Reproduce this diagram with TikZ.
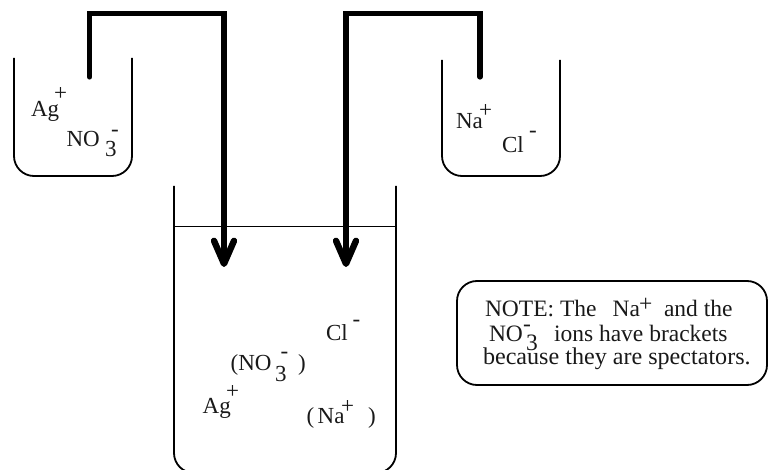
\documentclass[tikz,border=0pt]{standalone}
\usepackage{fontspec}
\setmainfont{Liberation Serif}
\usetikzlibrary{arrows.meta}
\tikzset{
  lbl/.style={anchor=base west,inner sep=0pt,outer sep=0pt,font=\fontsize{23}{26}\selectfont,text=black!90},
  nt/.style={lbl,font=\fontsize{23.5}{26}\selectfont},
  ntwide/.style={lbl,font=\fontsize{24.1}{26}\selectfont},
  beaker/.style={line width=1.8pt,rounded corners=20pt,draw=black},
  pipe/.style={line width=5.2pt,draw=black,line join=miter,line cap=round},
  pipearrow/.style={pipe,-{Straight Barb[round,length=23pt,width=20pt,line width=6.4pt]}}
}
\begin{document}
\begin{tikzpicture}[x=1pt,y=-1pt]
\useasboundingbox (0,0) rectangle (768,470);
\clip (0,0) rectangle (768,470);
% beakers
\draw[beaker] (14,58) -- (14,176) -- (132,176) -- (132,58);
\draw[beaker] (442,60) -- (442,176) -- (560,176) -- (560,60);
\draw[beaker] (174,186) -- (174,473) -- (396,473) -- (396,186);
\draw[line width=1.5pt] (174,226.5) -- (396,226.5);
% note box
\draw[beaker] (457,333) -- (457,281) -- (767,281) -- (767,385) -- (457,385) -- cycle;
% pipes
\coordinate (s1) at (89.7,77);
\coordinate (c1a) at (89.7,13.5);
\coordinate (c1b) at (224,13.5);
\coordinate (e1) at (224,267);
\coordinate (s2) at (480,77);
\coordinate (c2a) at (480,13.5);
\coordinate (c2b) at (346,13.5);
\coordinate (e2) at (346,267);
\draw[pipearrow] (s1) -- (c1a) -- (c1b) -- (e1);
\draw[pipearrow] (s2) -- (c2a) -- (c2b) -- (e2);
% left beaker
\node[lbl] (ag1) at (31,117) {Ag};
\node[lbl] (ag1p) at (54,101) {+};
\node[lbl] (no1) at (66.5,147) {NO};
\node[lbl] (no1s) at (105,157) {3};
\node[lbl] (no1m) at (111,137) {-};
% right beaker
\node[lbl] (na1) at (456,129) {Na};
\node[lbl] (na1p) at (479,117.5) {+};
\node[lbl] (cl1) at (502,153) {Cl};
\node[lbl] (cl1m) at (529,138) {-};
% big beaker
\node[lbl] (cl2) at (326,340.7) {Cl};
\node[lbl] (cl2m) at (352.5,326) {-};
\node[lbl] (no2) at (230.7,370) {(NO};
\node[lbl] (no2s) at (275,381) {3};
\node[lbl] (no2m) at (280.5,358) {-};
\node[lbl] (no2c) at (298,370) {)};
\node[lbl] (ag2) at (202.7,413) {Ag};
\node[lbl] (ag2p) at (226,398) {+};
\node[lbl] (na2o) at (306.7,423) {(};
\node[lbl] (na2) at (317.7,423) {Na};
\node[lbl] (na2p) at (341,413) {+};
\node[lbl] (na2c) at (368,423) {)};
% note
\node[nt] (n1) at (485,316.7) {NOTE: The};
\node[nt] (n1b) at (612.7,316.7) {Na};
\node[nt] (n1p) at (639,311) {+};
\node[nt] (n1c) at (664,316.7) {and the};
\node[nt] (n2) at (489,341.7) {NO};
\node[nt] (n2m) at (523,331) {-};
\node[nt] (n2s) at (526,350) {3};
\node[nt] (n2c) at (554,341.7) {ions have brackets};
\node[ntwide] (n3) at (483,364) {because they are spectators.};
\end{tikzpicture}
\end{document}
